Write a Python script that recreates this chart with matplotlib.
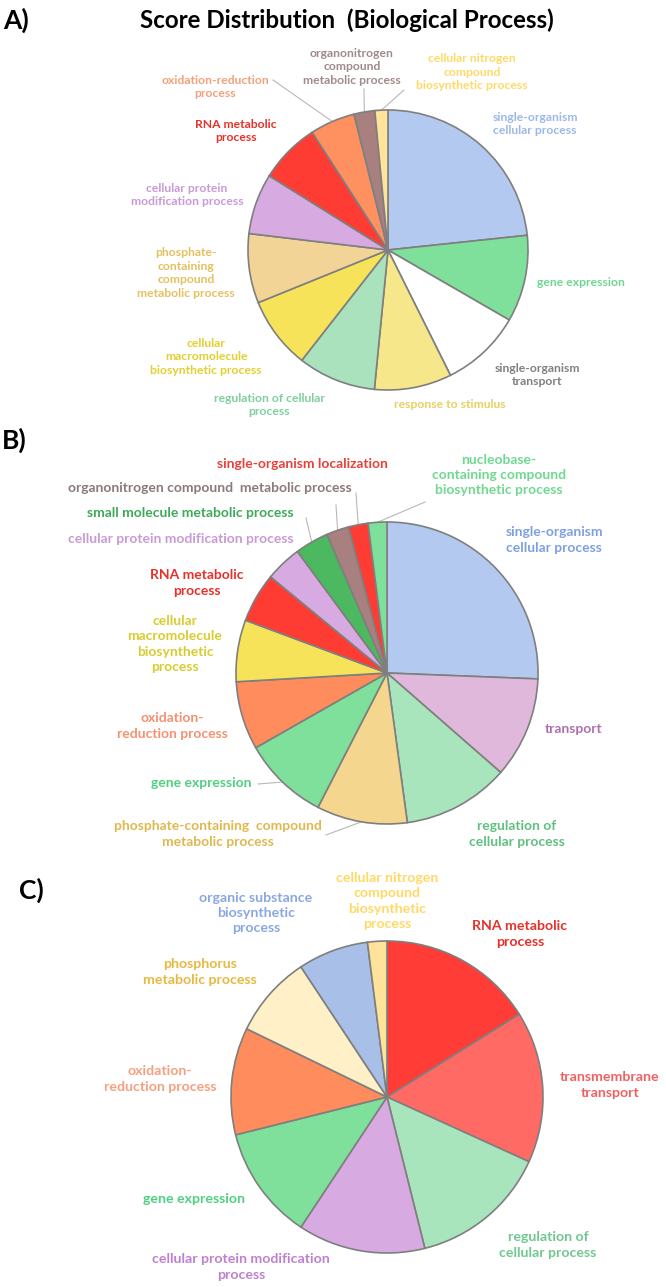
import numpy as np
import matplotlib
matplotlib.use('Agg')
import matplotlib.pyplot as plt

plt.rcParams['font.family'] = ['Lato', 'DejaVu Sans']

# ---- data (percent of terms) ----
labels_a = ['single-organism\ncellular process', 'gene expression', 'single-organism\ntransport',
            'response to stimulus', 'regulation of cellular\nprocess',
            'cellular\nmacromolecule\nbiosynthetic process',
            'phosphate-\ncontaining\ncompound\nmetabolic process',
            'cellular protein\nmodification process', 'RNA metabolic\nprocess',
            'oxidation-reduction\nprocess', 'organonitrogen\ncompound\nmetabolic process',
            'cellular nitrogen\ncompound\nbiosynthetic process']
values_a = [23.3, 10.0, 9.3, 8.9, 9.0, 8.3, 8.0, 7.0, 7.0, 5.2, 2.4, 1.5]

labels_b = ['single-organism\ncellular process', 'transport', 'regulation of\ncellular process',
            'phosphate-containing  compound\nmetabolic process', 'gene expression',
            'oxidation-\nreduction process', 'cellular\nmacromolecule\nbiosynthetic\nprocess',
            'RNA metabolic\nprocess', 'cellular protein modification process',
            'small molecule metabolic process', 'organonitrogen compound  metabolic process',
            'single-organism localization',
            'nucleobase-\ncontaining compound\nbiosynthetic process']
values_b = [25.6, 10.8, 11.4, 9.7, 9.2, 7.3, 6.6, 5.3, 3.9, 3.6, 2.4, 2.1, 2.0]

labels_c = ['RNA metabolic\nprocess', 'transmembrane\ntransport', 'regulation of\ncellular process',
            'cellular protein modification\nprocess', 'gene expression',
            'oxidation-\nreduction process', 'phosphorus\nmetabolic process',
            'organic substance\nbiosynthetic\nprocess',
            'cellular nitrogen\ncompound\nbiosynthetic\nprocess']
values_c = [16.1, 15.7, 14.3, 13.2, 11.8, 11.1, 8.5, 7.3, 2.0]

# ---- styles ----
colors_a = ['#b4c9ef', '#7ee09a', '#ffffff', '#f6e78a', '#a9e2bc', '#f6e35a',
            '#f2d496', '#d7aae2', '#ff3c33', '#ff9060', '#a88080', '#ffe39a']
text_a = ['#9db8e8', '#6fd690', '#808080', '#e8d060', '#7fcf9f', '#e0d030',
          '#e6c060', '#c89ad6', '#e8302a', '#f4a07a', '#a08a8a', '#ffd966']
colors_b = ['#b4c9f0', '#e0b8dc', '#a8e4bc', '#f4d68e', '#7ee09a', '#ff8c5c', '#f6e35a',
            '#ff3c33', '#d7aae2', '#4cb860', '#a88080', '#ff3c33', '#7ee09a']
text_b = ['#7ea0e0', '#b070b0', '#60c080', '#e0b850', '#50d080', '#f59070', '#d8cc30',
          '#e8302a', '#c89ad6', '#3cab58', '#8a7a7a', '#e8403a', '#70d890']
colors_c = ['#ff3c36', '#ff6a64', '#a8e4bc', '#d7aae2', '#7ee09a', '#ff8c5c',
            '#fff0c8', '#a8bfe8', '#ffe39a']
text_c = ['#e8302a', '#f06060', '#70c890', '#c080d0', '#50d080', '#f5a080',
          '#e8b840', '#8aa8e0', '#ffd966']

# ---- layout (pixels, y downwards) ----
pie_a = dict(center=(388, 250), radius=140, fs=8.7)
pie_b = dict(center=(387, 673), radius=151, fs=10.0)
pie_c = dict(center=(387, 1097), radius=156, fs=10.2)

# text centre and optional leader start
pos_a = [(535, 124, None), (581, 283, None), (537, 375, None), (450, 405, None),
         (269, 405, None), (206, 357, None), (186, 273, None), (187, 195, None),
         (236, 131, None), (215, 87, (273, 80)), (352, 67, (364, 89)),
         (472, 72, (404, 90))]
pos_b = [(554, 540, None), (574, 729, None), (517, 834, None), (218, 834, (326, 835)),
         (201, 783, (258, 784)), (172, 726, None), (175, 644, None), (197, 583, None),
         (181, 539, None), (190, 513, (306, 518)), (210, 488, (336, 505)),
         (302, 464, (356, 493)), (499, 475, (425, 502))]
pos_c = [(520, 934, None), (610, 1085, None), (548, 1245, None), (241, 1267, None),
         (194, 1199, None), (160, 1079, None), (200, 972, None), (256, 913, None),
         (387, 901, None)]

W, H = 666, 1287
fig = plt.figure(figsize=(W / 100, H / 100), dpi=100)
ax = fig.add_axes([0, 0, 1, 1])


def draw_pie(values, colors, tcolors, labels, layout, geom):
    cx, cy = geom['center']
    r = geom['radius']
    # y axis is inverted, so counterclock in data = clockwise on screen
    wedges, _ = ax.pie(values, colors=colors, startangle=-90, counterclock=True,
                       center=(cx, cy), radius=r, normalize=True,
                       wedgeprops=dict(edgecolor='#7f7f7f', linewidth=1.2))
    for w, lab, tc, (tx, ty, lead) in zip(wedges, labels, tcolors, layout):
        ax.text(tx, ty, lab, color=tc, fontsize=geom['fs'], fontweight='bold',
                ha='center', va='center', linespacing=1.32)
        if lead is not None:
            mid = np.deg2rad((w.theta1 + w.theta2) / 2)
            ex, ey = cx + r * np.cos(mid), cy + r * np.sin(mid)
            ax.plot([lead[0], ex], [lead[1], ey], color='#b8b8b8', lw=0.8, zorder=0)


draw_pie(values_a, colors_a, text_a, labels_a, pos_a, pie_a)
draw_pie(values_b, colors_b, text_b, labels_b, pos_b, pie_b)
draw_pie(values_c, colors_c, text_c, labels_c, pos_c, pie_c)

ax.text(347, 20, 'Score Distribution  (Biological Process)', fontsize=17.4,
        fontweight='bold', ha='center', va='center')
ax.text(3, 20, 'A)', fontsize=19, fontweight='bold', ha='left', va='center')
ax.text(2, 440, 'B)', fontsize=19, fontweight='bold', ha='left', va='center')
ax.text(19, 890, 'C)', fontsize=19, fontweight='bold', ha='left', va='center')

ax.set_xlim(0, W)
ax.set_ylim(H, 0)
ax.set_aspect('equal')
ax.axis('off')

fig.savefig('out.png', dpi=100)
